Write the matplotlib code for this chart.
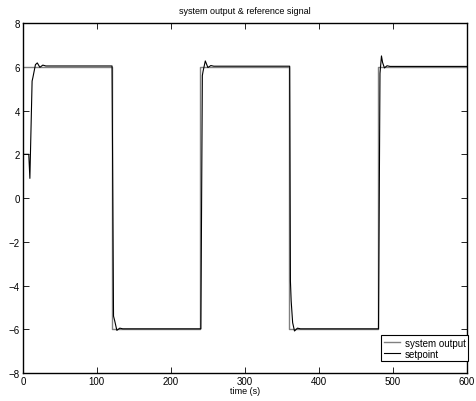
import matplotlib
matplotlib.use("Agg")
import matplotlib.pyplot as plt

plt.rcParams['font.family'] = ['Liberation Sans', 'DejaVu Sans']

# reference square wave (drawn gray)
ref_t = [0, 120, 120, 240, 240, 360, 360, 480, 480, 600]
ref_v = [6, 6, -6, -6, 6, 6, -6, -6, 6, 6]

# measured response (drawn black)
out_t = [0, 8, 9.5, 12.5, 13.5, 17, 19.5, 23, 27, 31,
         120.5, 122.5, 124, 127, 131, 135,
         240.5, 242.5, 243.5, 246.5, 250, 254, 258,
         360.5, 361.5, 362.5, 364.5, 367, 371, 375,
         480.5, 482.5, 484.5, 486, 488.5, 492, 496,
         600]
out_v = [2.0, 2.0, 0.9, 5.35, 5.5, 6.1, 6.18, 5.98, 6.08, 6.04,
         6.04, -5.4, -5.6, -6.05, -5.95, -5.98,
         -5.98, 5.6, 5.8, 6.27, 5.97, 6.06, 6.03,
         6.03, -3.8, -4.7, -5.7, -6.08, -5.95, -5.98,
         -5.98, 5.7, 6.5, 6.2, 5.95, 6.05, 6.02,
         6.02]

xticks = [0, 100, 200, 300, 400, 500, 600]
yticks = [-8, -6, -4, -2, 0, 2, 4, 6, 8]

fig = plt.figure(figsize=(4.76, 4.02), dpi=100)
ax = fig.add_axes([0.048, 0.0697, 0.933, 0.8703])

ax.plot(ref_t, ref_v, color='#808080', lw=1.0, label='system output')
ax.plot(out_t, out_v, color='black', lw=0.8, label='setpoint')

ax.set_xlim(0, 600)
ax.set_ylim(-8, 8)
ax.set_xticks(xticks)
ax.set_yticks(yticks)
ax.tick_params(direction='in', top=True, right=True, labelsize=7, length=4, width=0.6, pad=2)
for s in ax.spines.values():
    s.set_linewidth(1.0)

ax.set_title('system output & reference signal', fontsize=6.5, pad=7)
ax.set_xlabel('time (s)', fontsize=6.5, labelpad=0)

leg = ax.legend(loc='lower right', bbox_to_anchor=(1.003, 0.034), fontsize=7,
                fancybox=False, framealpha=1, edgecolor='black', borderaxespad=0,
                handlelength=1.7, borderpad=0.25, labelspacing=0.1, handletextpad=0.5)
leg.get_frame().set_linewidth(0.8)

fig.savefig('out.png', dpi=100)
